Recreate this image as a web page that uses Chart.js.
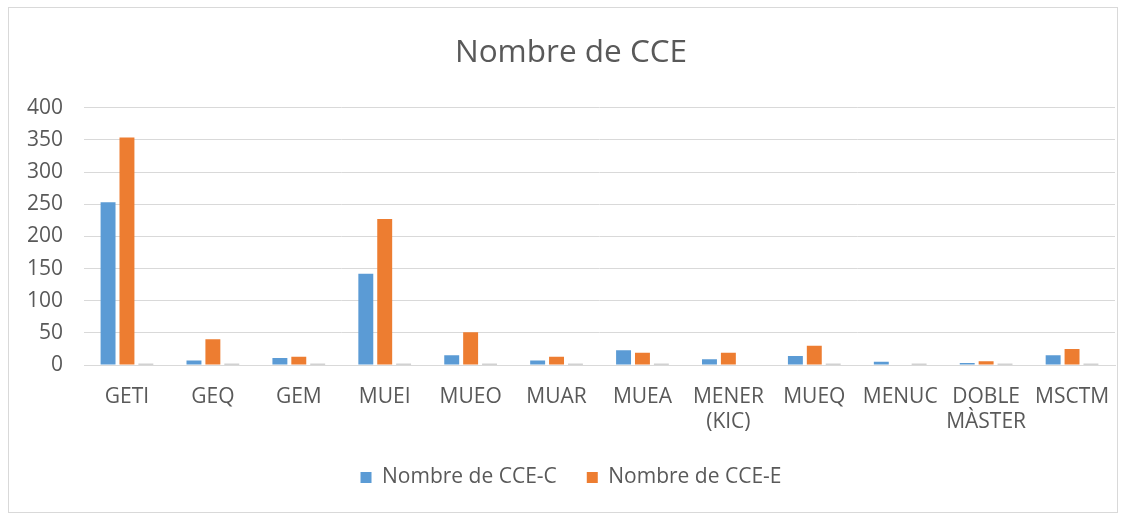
<!DOCTYPE html>
<html>
<head>
<meta charset="utf-8">
<script src="https://cdn.jsdelivr.net/npm/chart.js@4/dist/chart.umd.min.js"></script>
<style>
  html, body { margin: 0; padding: 0; background: #fff; }
  #frame {
    position: absolute; left: 8px; top: 7px; width: 1108px; height: 504px;
    border: 1px solid #d9d9d9; background: #fff; overflow: hidden;
  }
  #chart { display: block; }
</style>
</head>
<body>
<div id="frame"><canvas id="chart" width="1134" height="504"></canvas></div>
<script>
// categories (programmes)
const programmes = ['GETI', 'GEQ', 'GEM', 'MUEI', 'MUEO', 'MUAR', 'MUEA', ['MENER', '(KIC)'], 'MUEQ', 'MENUC', ['DOBLE', 'MÀSTER'], 'MSCTM'];

// series values
const cceC = [253, 7, 11, 142, 15, 7, 23, 9, 14, 5, 3, 15];
const cceE = [354, 40, 13, 227, 51, 13, 19, 19, 30, 0, 6, 25];
const cceOther = [2, 2, 2, 2, 2, 2, 2, 0, 2, 2, 2, 2];

const yTicks = [0, 50, 100, 150, 200, 250, 300, 350, 400];

const textColor = '#595959';
const fontFamily = '"Open Sans", sans-serif';

const ctx = document.getElementById('chart').getContext('2d');

new Chart(ctx, {
  type: 'bar',
  data: {
    labels: programmes,
    datasets: [
      { label: 'Nombre de CCE-C', data: cceC, backgroundColor: '#5b9bd5' },
      { label: 'Nombre de CCE-E', data: cceE, backgroundColor: '#ed7d31' },
      { label: 'Altres', data: cceOther, backgroundColor: '#a5a5a5' },
    ],
  },
  options: {
    responsive: false,
    animation: false,
    categoryPercentage: 0.66,
    barPercentage: 0.79,
    // wider canvas on the right keeps title/legend centred like the original
    layout: { padding: { left: 18, right: 28, top: 0, bottom: 14 } },
    plugins: {
      title: {
        display: true,
        text: 'Nombre de CCE',
        color: textColor,
        font: { family: fontFamily, size: 31.5, weight: 'normal' },
        padding: { top: 26, bottom: 36 },
      },
      legend: {
        position: 'bottom',
        labels: {
          color: textColor,
          font: { family: fontFamily, size: 21 },
          boxWidth: 11,
          boxHeight: 11,
          padding: 30,
          filter: (item) => item.datasetIndex < 2,
        },
      },
      tooltip: { enabled: false },
    },
    scales: {
      x: {
        grid: { display: false },
        border: { color: '#d9d9d9' },
        afterFit: (axis) => {
          axis.height = 72;
        },
        ticks: {
          color: textColor,
          font: { family: fontFamily, size: 21 },
          padding: 11,
          maxRotation: 0,
          autoSkip: false,
        },
      },
      y: {
        min: 0,
        max: 400,
        afterBuildTicks: (axis) => {
          axis.ticks = yTicks.map((v) => ({ value: v }));
        },
        afterFit: (axis) => {
          axis.width = 57;
        },
        grid: { color: '#d9d9d9', drawTicks: false },
        border: { display: false },
        ticks: {
          color: textColor,
          font: { family: fontFamily, size: 21 },
          padding: 21,
        },
      },
    },
  },
});
</script>
</body>
</html>
